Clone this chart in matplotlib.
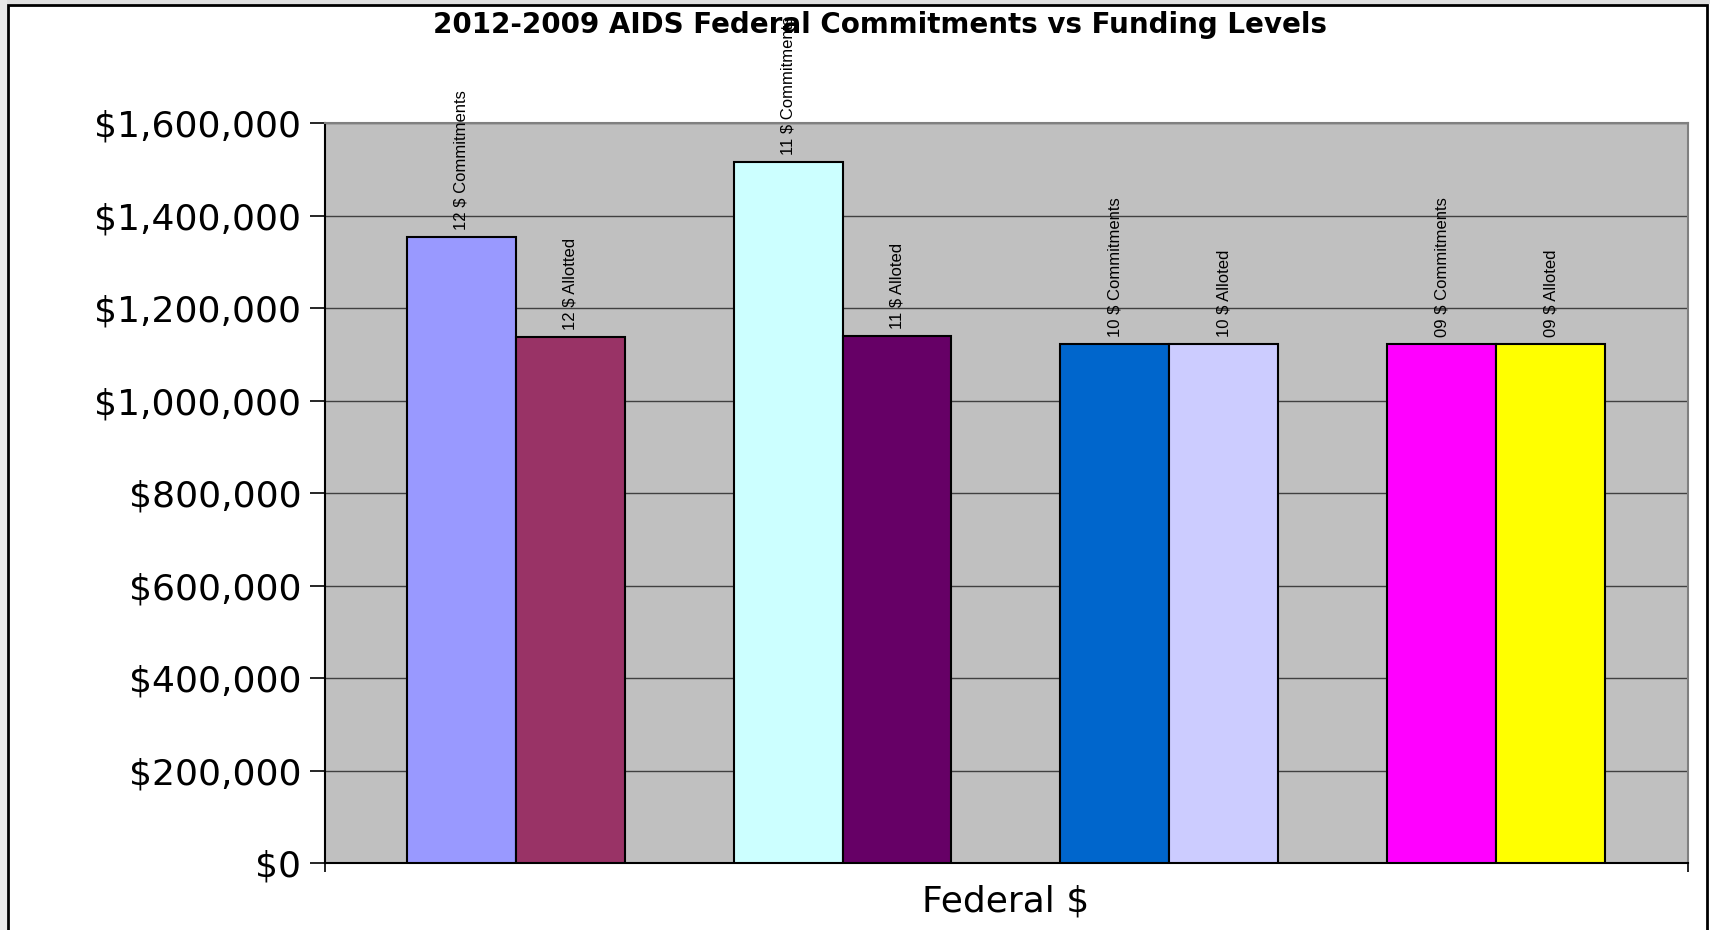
import numpy as np
import matplotlib
matplotlib.use('Agg')
import matplotlib.pyplot as plt
from matplotlib import font_manager
from matplotlib.patches import Rectangle

# Data
years = ['12', '11', '10', '09']
commitments = [1353000, 1515000, 1122000, 1122000]
allotted = [1137000, 1139000, 1122000, 1122000]
commit_labels = ['12 $ Commitments', '11 $ Commitments', '10 $ Commitments', '09 $ Commitments']
allot_labels = ['12 $ Allotted', '11 $ Alloted', '10 $ Alloted', '09 $ Alloted']
commit_colors = ['#9999FF', '#CCFFFF', '#0066CC', '#FF00FF']
allot_colors = ['#993366', '#660066', '#CCCCFF', '#FFFF00']
y_ticks = np.arange(0, 1600001, 200000)


def pick_font(candidates):
    names = {f.name for f in font_manager.fontManager.ttflist}
    for c in candidates:
        if c in names:
            return c
    return 'DejaVu Sans'


narrow = pick_font(['Liberation Sans Narrow', 'DejaVu Sans Condensed', 'Liberation Sans'])

fig = plt.figure(figsize=(17.1, 9.3), dpi=100)
fig.patch.set_facecolor('white')
ax = fig.add_axes([325 / 1710, 1 - 863 / 930, 1363 / 1710, 740 / 930])
ax.set_facecolor('#C0C0C0')

x = np.arange(len(years))
w = 1 / 3
ax.bar(x - w / 2, commitments, w, color=commit_colors, edgecolor='black', linewidth=1.5, zorder=3)
ax.bar(x + w / 2, allotted, w, color=allot_colors, edgecolor='black', linewidth=1.5, zorder=3)

for xi, v, lab in zip(x - w / 2, commitments, commit_labels):
    ax.annotate(lab, (xi, v), xytext=(0, 5), textcoords='offset points', rotation=90,
                ha='center', va='bottom', fontsize=12, family=narrow, annotation_clip=False, zorder=5)
for xi, v, lab in zip(x + w / 2, allotted, allot_labels):
    ax.annotate(lab, (xi, v), xytext=(0, 5), textcoords='offset points', rotation=90,
                ha='center', va='bottom', fontsize=12, family=narrow, annotation_clip=False, zorder=5)

ax.set_ylim(0, 1600000)
ax.set_xlim(-175 / 300, 3 + 176 / 300)
ax.set_yticks(y_ticks)
ax.set_yticklabels(['${:,.0f}'.format(t) for t in y_ticks], fontsize=26, family='DejaVu Sans')
ax.set_xticks([-175 / 300, 3 + 176 / 300])
ax.set_xticklabels([])
ax.tick_params(axis='y', length=11, width=1.2, pad=6, color='black')
ax.tick_params(axis='x', length=6.5, width=1.2, color='black')
ax.grid(axis='y', color='#404040', linewidth=1, zorder=1)
ax.set_axisbelow(True)

for side in ['left', 'bottom']:
    ax.spines[side].set_color('black')
    ax.spines[side].set_linewidth(1.5)
for side in ['top', 'right']:
    ax.spines[side].set_color('#808080')
    ax.spines[side].set_linewidth(1.5)

fig.text(880 / 1710, 1 - 25 / 930, '2012-2009 AIDS Federal Commitments vs Funding Levels',
         ha='center', va='center', fontsize=20, fontweight='bold', family='DejaVu Sans')
fig.text(1006 / 1710, 1 - 901 / 930, 'Federal $', ha='center', va='center',
         fontsize=26, family='DejaVu Sans')

# outer chart frame and screenshot margins
fig.patches.append(Rectangle((0, 1 - 4 / 930), 1, 4 / 930, transform=fig.transFigure,
                             facecolor='#E0E0E0', edgecolor='none', zorder=0))
fig.patches.append(Rectangle((0, 0), 7 / 1710, 1, transform=fig.transFigure,
                             facecolor='#E8E8E8', edgecolor='none', zorder=0))
fig.patches.append(Rectangle((8 / 1710, -0.01), 1699 / 1710, 1.01 - 5 / 930, transform=fig.transFigure,
                             fill=False, edgecolor='black', linewidth=2, zorder=1))

fig.savefig('out.png', dpi=100)
